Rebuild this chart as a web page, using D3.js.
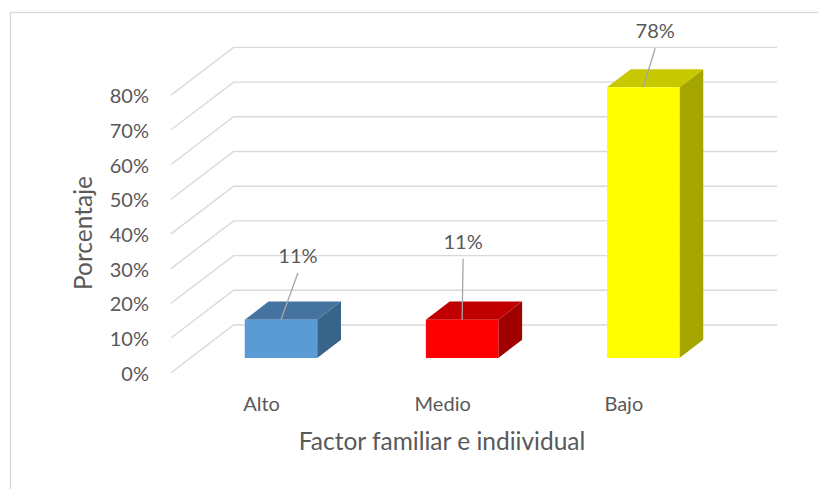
<!DOCTYPE html>
<html>
<head>
<meta charset="utf-8">
<script src="https://cdn.jsdelivr.net/npm/d3@7"></script>
<style>
  body { margin: 0; background: #fff; }
  text { font-family: Lato, "Open Sans", sans-serif; fill: #595959; }
</style>
</head>
<body>
<div id="viz"></div>
<script>
// data
const categories = ["Alto", "Medio", "Bajo"];
const values = [0.11, 0.11, 0.78];
const valueLabels = ["11%", "11%", "78%"];
const yTicks = [0, 0.1, 0.2, 0.3, 0.4, 0.5, 0.6, 0.7, 0.8];

// face colours: front, top, side
const faceColors = [
  ["#5B9BD5", "#44739F", "#386489"],
  ["#FF0000", "#C00000", "#A00000"],
  ["#FFFF00", "#C8C800", "#A6A600"]
];

// where the data labels were dragged to, relative to the bar's front top centre
const labelOffsets = [[17, -57], [1, -71], [12, -49]];

const width = 818;
const height = 489;

// back wall of the 3d plot and depth vector (back -> front)
const wall = {left: 233.6, right: 777, bottom: 325, top: 47.4};
const depth = {dx: -62.6, dy: 47.7};

const svg = d3.select("#viz")
  .append("svg")
  .attr("width", width)
  .attr("height", height);

// chart frame (right and bottom edges are outside the picture)
svg.append("rect")
  .attr("x", 10.5)
  .attr("y", 12.5)
  .attr("width", 900)
  .attr("height", 600)
  .attr("fill", "none")
  .attr("stroke", "#D9D9D9")
  .attr("stroke-width", 1.3);

const x = d3.scaleBand()
  .domain(categories)
  .range([wall.left, wall.right])
  .paddingInner(0.6)
  .paddingOuter(0.3);

const y = d3.scaleLinear()
  .domain([0, 0.8])
  .range([wall.bottom, wall.top]);

// project a point on the back wall forward by z (0 = back, 1 = front)
function proj(px, v, z) {
  return [px + z * depth.dx, y(v) + z * depth.dy];
}

// gridlines: diagonal on the side wall, horizontal on the back wall
const grid = svg.append("g")
  .attr("fill", "none")
  .attr("stroke", "#D9D9D9")
  .attr("stroke-width", 1.4);

grid.selectAll("path")
  .data(yTicks)
  .enter()
  .append("path")
  .attr("d", function (d) {
    const p = d3.path();
    const f = proj(wall.left, d, 1);
    p.moveTo(f[0], f[1]);
    p.lineTo(wall.left, y(d));
    p.lineTo(wall.right, y(d));
    return p.toString();
  });

// y tick labels at the front edge
svg.append("g")
  .selectAll("text")
  .data(yTicks)
  .enter()
  .append("text")
  .attr("x", proj(wall.left, 0, 1)[0] - 22)
  .attr("y", function (d) { return proj(wall.left, d, 1)[1]; })
  .attr("text-anchor", "end")
  .attr("dominant-baseline", "central")
  .attr("font-size", 20)
  .text(d3.format(".0%"));

// bars
const zBack = 0.31, zFront = 0.69;
const bars = svg.append("g");

categories.forEach(function (c, i) {
  const x0 = x(c), x1 = x(c) + x.bandwidth();
  const v = values[i];
  const col = faceColors[i];
  const pts = function (list) {
    return list.map(function (q) { return proj(q[0], q[1], q[2]).join(","); }).join(" ");
  };
  // side
  bars.append("polygon")
    .attr("points", pts([[x1, 0, zFront], [x1, 0, zBack], [x1, v, zBack], [x1, v, zFront]]))
    .attr("fill", col[2]);
  // top
  bars.append("polygon")
    .attr("points", pts([[x0, v, zFront], [x1, v, zFront], [x1, v, zBack], [x0, v, zBack]]))
    .attr("fill", col[1]);
  // front
  bars.append("polygon")
    .attr("points", pts([[x0, 0, zFront], [x1, 0, zFront], [x1, v, zFront], [x0, v, zFront]]))
    .attr("fill", col[0]);
});

// data labels with leader lines
categories.forEach(function (c, i) {
  const anchor = proj(x(c) + x.bandwidth() / 2, values[i], zFront);
  const lx = anchor[0] + labelOffsets[i][0];
  const ly = anchor[1] + labelOffsets[i][1];
  svg.append("line")
    .attr("x1", anchor[0])
    .attr("y1", anchor[1])
    .attr("x2", lx)
    .attr("y2", ly + 10)
    .attr("stroke", "#A6A6A6")
    .attr("stroke-width", 1.3);
  svg.append("text")
    .attr("x", lx)
    .attr("y", ly)
    .attr("text-anchor", "middle")
    .attr("font-size", 20)
    .text(valueLabels[i]);
});

// category labels along the front floor edge
svg.append("g")
  .selectAll("text")
  .data(categories)
  .enter()
  .append("text")
  .attr("x", function (d) { return proj(x(d) + x.bandwidth() / 2, 0, 1)[0]; })
  .attr("y", 411)
  .attr("text-anchor", "middle")
  .attr("font-size", 20)
  .text(function (d) { return d; });

// axis titles
svg.append("text")
  .attr("x", 442)
  .attr("y", 450)
  .attr("text-anchor", "middle")
  .attr("font-size", 24.5)
  .text("Factor familiar e indiividual");

svg.append("text")
  .attr("transform", "translate(92,233) rotate(-90)")
  .attr("text-anchor", "middle")
  .attr("font-size", 24.5)
  .text("Porcentaje");
</script>
</body>
</html>
